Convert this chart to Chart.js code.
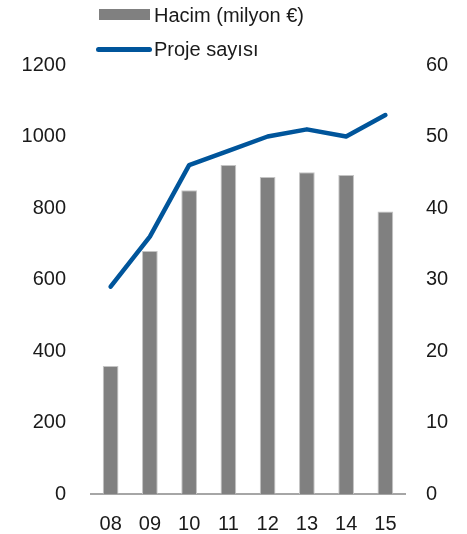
<!DOCTYPE html>
<html lang="tr">
<head>
  <meta charset="UTF-8">
  <title>Hacim ve Proje sayısı</title>
  <script src="https://cdn.jsdelivr.net/npm/chart.js"></script>
  <style>
    html, body { margin: 0; padding: 0; background: #fff; }
    #wrap { position: relative; width: 467px; height: 534px; }
    #legend { position: absolute; left: 99px; top: 0; font-family: "Liberation Sans", Arial, sans-serif; font-size: 20px; color: #1a1a1a; }
    .item { position: absolute; left: 0; white-space: nowrap; height: 24px; line-height: 24px; }
    .swatch { position: absolute; left: 0; }
    .item span { position: absolute; left: 55px; top: 0; }
  </style>
</head>
<body>
  <div id="wrap">
    <canvas id="chart" width="467" height="534"></canvas>
    <div id="legend">
      <div class="item" style="top:3px;">
        <div class="swatch" style="top:6px; width:51px; height:11px; background:#808080;"></div>
        <span>Hacim (milyon €)</span>
      </div>
      <div class="item" style="top:37px;">
        <div class="swatch" style="top:10px; left:-3px; width:56px; height:5px; border-radius:3px; background:#00559b;"></div>
        <span>Proje sayısı</span>
      </div>
    </div>
  </div>

  <script>
    // chart data
    const years = ['08', '09', '10', '11', '12', '13', '14', '15'];
    const volume = [358, 680, 850, 920, 887, 900, 892, 790];
    const projects = [29, 36, 46, 48, 50, 51, 50, 53];

    const font = { family: '"Liberation Sans", Arial, sans-serif', size: 20 };

    new Chart(document.getElementById('chart'), {
      data: {
        labels: years,
        datasets: [
          {
            type: 'line',
            label: 'Proje sayısı',
            data: projects,
            yAxisID: 'y2',
            borderColor: '#00559b',
            borderWidth: 4.5,
            borderCapStyle: 'round',
            borderJoinStyle: 'round',
            pointRadius: 0,
            tension: 0,
          },
          {
            type: 'bar',
            label: 'Hacim (milyon €)',
            data: volume,
            yAxisID: 'y',
            backgroundColor: '#808080',
            borderColor: '#c4c4c4',
            borderWidth: 1,
            barPercentage: 0.4,
            categoryPercentage: 1,
          },
        ],
      },
      options: {
        responsive: false,
        animation: false,
        layout: { padding: { top: 65, left: 0, right: 0, bottom: 0 } },
        plugins: { legend: { display: false }, tooltip: { enabled: false } },
        scales: {
          x: {
            grid: { display: false },
            border: { color: '#a6a6a6', width: 2 },
            ticks: { font: font, color: '#1a1a1a', padding: 10 },
            afterFit: s => { s.height = 40; },
          },
          y: {
            position: 'left',
            min: 0, max: 1200,
            grid: { display: false },
            border: { display: false },
            ticks: { stepSize: 200, font: font, color: '#1a1a1a', padding: 17, callback: v => String(v) },
            afterFit: s => { s.width = 91; },
          },
          y2: {
            position: 'right',
            min: 0, max: 60,
            grid: { display: false },
            border: { display: false },
            ticks: { stepSize: 10, font: font, color: '#1a1a1a', padding: 13, callback: v => String(v) },
            afterFit: s => { s.width = 62; },
          },
        },
      },
    });
  </script>
</body>
</html>
